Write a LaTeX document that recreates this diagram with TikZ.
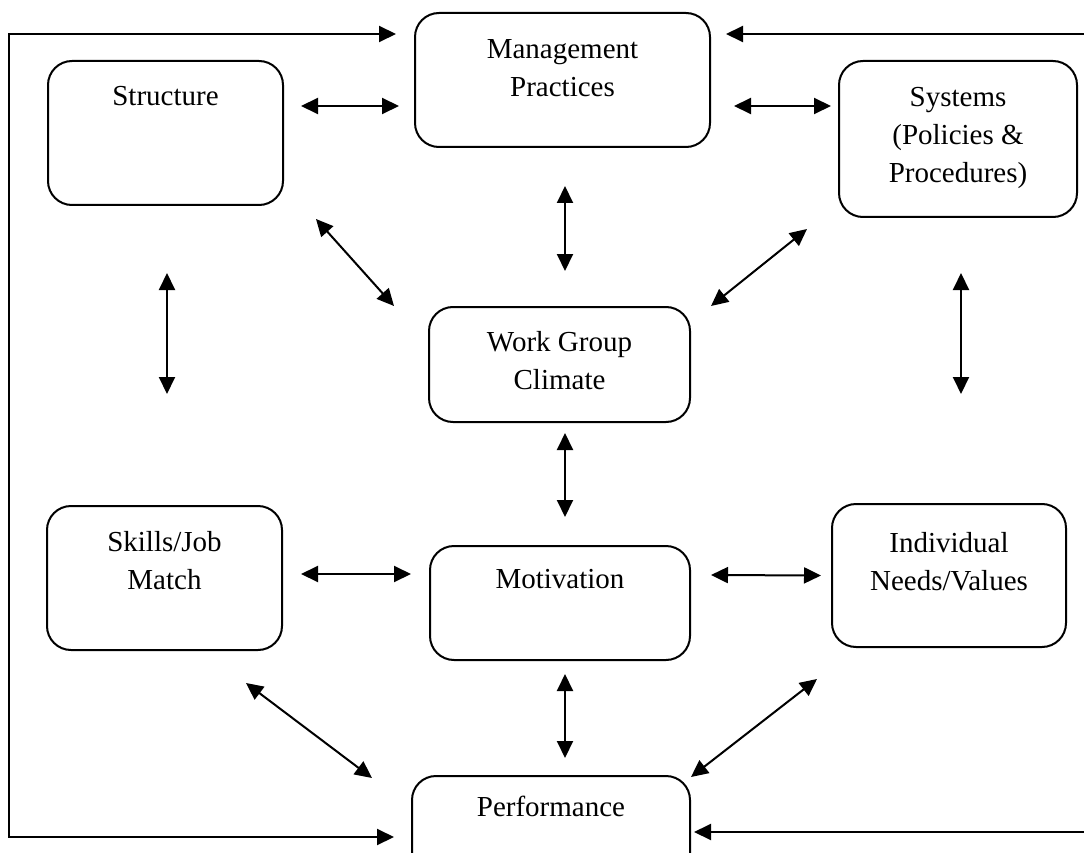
\documentclass[tikz,border=0pt]{standalone}
\usepackage{fontspec}
\setmainfont{Liberation Serif}
\usetikzlibrary{arrows.meta,positioning}

\begin{document}
\begin{tikzpicture}[x=1pt,y=-1pt,
    >={Triangle[length=17pt,width=16pt]},
    block/.style={draw,line width=2pt,rounded corners=24pt,inner sep=0pt},
    boxtext/.style={align=center,inner sep=0pt,font=\fontsize{29}{38}\selectfont},
    link/.style={line width=2pt,<->},
    feed/.style={line width=2pt,->}]
\useasboundingbox (0,0) rectangle (1084,853);
\clip (0,0) rectangle (1084,853);

\node[block,minimum width=295pt,minimum height=134pt] (mgmt) at (562.5,80) {};
\node[block,minimum width=235pt,minimum height=144pt] (struct) at (165.5,133) {};
\node[block,minimum width=238pt,minimum height=156pt] (sys) at (958,139) {};
\node[block,minimum width=261pt,minimum height=115pt] (wgc) at (559.5,364.5) {};
\node[block,minimum width=235pt,minimum height=144pt] (skills) at (164.5,578) {};
\node[block,minimum width=260pt,minimum height=114pt] (motiv) at (560,603) {};
\node[block,minimum width=234pt,minimum height=143pt] (indiv) at (949,575.5) {};
\node[block,minimum width=278pt,minimum height=104pt] (perf) at (551,828) {};

\node[boxtext,below=27pt of mgmt.north] (mgmt-t) {Management\\Practices};
\node[boxtext,below=26pt of struct.north] (struct-t) {Structure};
\node[boxtext,below=27pt of sys.north] (sys-t) {Systems\\(Policies \&\\Procedures)};
\node[boxtext,below=25pt of wgc.north] (wgc-t) {Work Group\\Climate};
\node[boxtext,below=26pt of skills.north] (skills-t) {Skills/Job\\Match};
\node[boxtext,below=24pt of motiv.north] (motiv-t) {Motivation};
\node[boxtext,below=29pt of indiv.north] (indiv-t) {Individual\\Needs/Values};
\node[boxtext,below=21pt of perf.north] (perf-t) {Performance};

\draw[link] ([shift={(17,-27)}]struct.east) -- ([shift={(-15,26)}]mgmt.west);
\draw[link] ([shift={(23,26)}]mgmt.east) -- ([shift={(-7,-33)}]sys.west);
\draw[link] ([shift={(2.5,38)}]mgmt.south) -- ([shift={(5.5,-35)}]wgc.north);
\draw[link] ([shift={(32,13)}]struct.south east) -- ([shift={(-34,0)}]wgc.north west);
\draw[link] ([shift={(-31,11)}]sys.south west) -- ([shift={(20,0)}]wgc.north east);
\draw[link] ([shift={(1.5,67)}]struct.south) -- ([shift={(2.5,-111)}]skills.north);
\draw[link] ([shift={(3,55)}]sys.south) -- ([shift={(12,-109)}]indiv.north);
\draw[link] ([shift={(5.5,10)}]wgc.south) -- ([shift={(5,-28)}]motiv.north);
\draw[link] ([shift={(18,-4)}]skills.east) -- ([shift={(-18,-29)}]motiv.west);
\draw[link] ([shift={(20,-28)}]motiv.east) -- ([shift={(-10,0)}]indiv.west);
\draw[link] ([shift={(5,13)}]motiv.south) -- ([shift={(14,-17)}]perf.north);
\draw[link] ([shift={(-37,32)}]skills.south east) -- ([shift={(-39,3)}]perf.north west);
\draw[link] ([shift={(-14,31)}]indiv.south west) -- ([shift={(0,2)}]perf.north east);

\draw[link] ([shift={(-17,9)}]perf.west) -- ++(-385,0) |- ([shift={(-18,-46)}]mgmt.west);
\coordinate (rtop) at (1090,34);
\coordinate (rbot) at (1090,832);
\draw[feed] (rtop) -- ([shift={(15,-46)}]mgmt.east);
\draw[feed] (rbot) -- ([shift={(3,4)}]perf.east);
\end{tikzpicture}
\end{document}
